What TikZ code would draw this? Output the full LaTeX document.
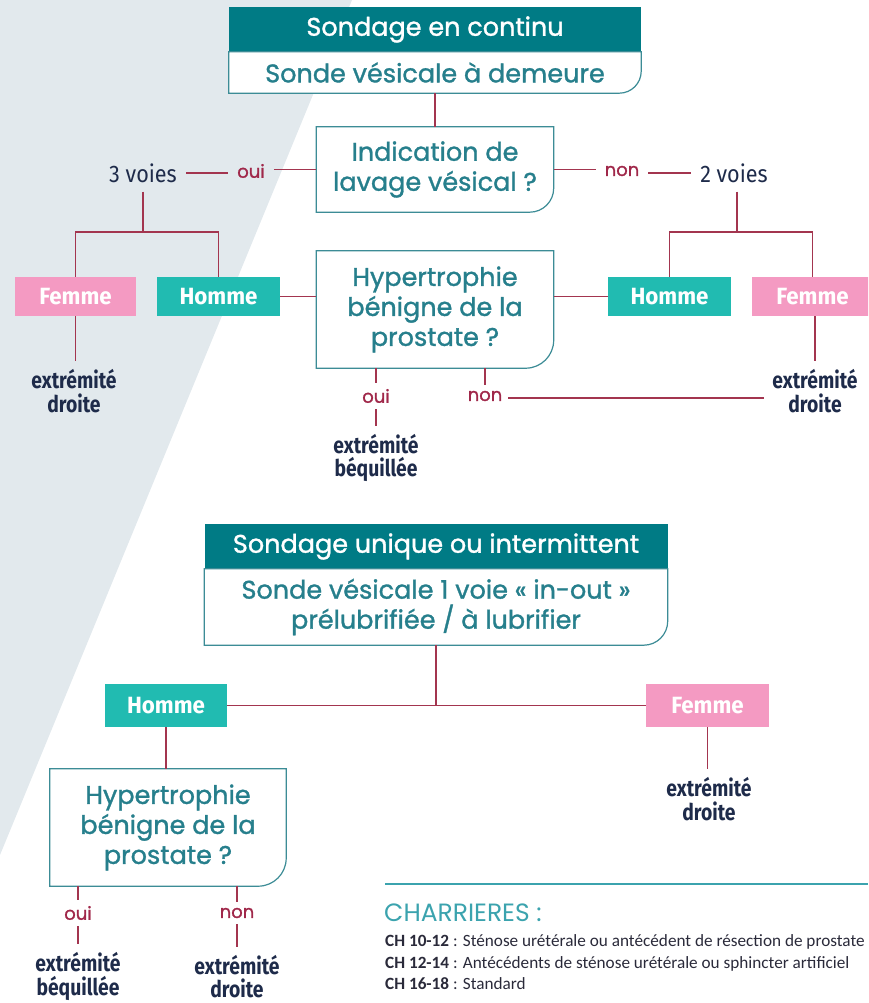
\documentclass[tikz,border=0pt]{standalone}
\usepackage{fontspec}
\setmainfont{Poppins}
\newfontfamily\popm[FakeBold=1.2]{Poppins}
\newfontfamily\condf[FakeStretch=0.84]{Fira Sans}
\newfontfamily\condn[FakeStretch=0.95]{Fira Sans}
\newfontfamily\condv[FakeStretch=0.9]{Fira Sans}
\newfontfamily\calib{Carlito}
\usetikzlibrary{calc}
\definecolor{bggray}{HTML}{E2E9ED}
\definecolor{hdrteal}{HTML}{007B85}
\definecolor{txteal}{HTML}{267F8C}
\definecolor{brdteal}{HTML}{3C8C96}
\definecolor{maroon1}{HTML}{A3354F}
\definecolor{red1}{HTML}{A0284A}
\definecolor{navy1}{HTML}{1E2B4A}
\definecolor{pink1}{HTML}{F49AC2}
\definecolor{green1}{HTML}{21BBB1}
\definecolor{septeal}{HTML}{3BA3AE}
\definecolor{foot}{HTML}{2A2A3A}
\newcommand\myrbox[2]{\draw[boxline] (#1.north west) -- (#1.north east) -- ($(#1.south east)+(0pt,#2)$) arc[start angle=0,end angle=-90,radius=#2] -- (#1.south west) -- cycle;}
\begin{document}
\begin{tikzpicture}[x=1pt,y=-1pt,
  hdr/.style={fill=hdrteal, text=white, inner sep=0pt, font=\popm\fontsize{25.5}{26}\selectfont},
  sub/.style={fill=white, text=txteal, inner sep=0pt, align=center, font=\popm\fontsize{25.5}{30}\selectfont},
  qbox/.style={fill=white, text=txteal, inner sep=0pt, align=center, font=\popm\fontsize{25.5}{30}\selectfont},
  boxline/.style={draw=brdteal, line width=1.2pt},
  link/.style={draw=maroon1, line width=1.4pt},
  pbox/.style={fill=pink1, text=white, inner sep=0pt, minimum width=121pt, minimum height=39pt, font=\condn\bfseries\fontsize{23.5}{24}\selectfont},
  gbox/.style={fill=green1, text=white, inner sep=0pt, minimum width=123pt, minimum height=39pt, font=\condn\bfseries\fontsize{23.5}{24}\selectfont},
  yn/.style={text=red1, inner sep=9pt, font=\popm\fontsize{18}{20}\selectfont},
  res/.style={text=navy1, align=center, inner sep=8pt, font=\condf\bfseries\fontsize{23}{23.5}\selectfont},
  vlab/.style={text=navy1, inner sep=9pt, font=\condv\fontsize{24}{24}\selectfont},
  ftline/.style={text=foot, anchor=base west, inner sep=0pt, font=\calib\fontsize{17.2}{20}\selectfont}
]
\useasboundingbox (0,0) rectangle (868,1003);
\clip (0,0) rectangle (868,1003);
\fill[bggray] (0,0) -- (352,0) -- (0,855) -- cycle;

% ---- top block
\node[hdr, minimum width=412pt, minimum height=45pt] (h1) at (435,29.5) {Sondage en continu};
\node[sub, minimum width=412pt, minimum height=41pt] (s1) at (435,72.5) {Sonde vésicale à demeure};
\myrbox{s1}{22pt}
\node[qbox, minimum width=237pt, minimum height=85pt] (q1) at (435,169.5) {Indication de\\lavage vésical ?};
\myrbox{q1}{24pt}
\draw[link] (s1.south) -- (q1.north);

\node[vlab] (v3) at (143,173) {3 voies};
\node[yn] (oui1) at (251,171) {oui};
\node[yn] (non1) at (622,171) {non};
\node[vlab] (v2) at (734,173) {2 voies};
\draw[link] (v3.east) -- (v3.east -| oui1.west);
\draw[link] (oui1.east |- q1.west) -- (q1.west);
\draw[link] (q1.east) -- (q1.east -| non1.west);
\draw[link] (non1.east |- v2.west) -- (v2.west);

\node[pbox] (f1) at (75.5,296.5) {Femme};
\node[gbox] (hm1) at (218.5,296.5) {Homme};
\node[gbox] (hm2) at (669.5,296.5) {Homme};
\node[pbox] (f2) at (812.5,296.5) {Femme};
\coordinate (j1) at (143,232);
\coordinate (j2) at (737,232);
\draw[link] (v3.south) -- (j1);
\draw[link] (f1.north) |- (j1) -| (hm1.north);
\draw[link] (v2.south -| j2) -- (j2);
\draw[link] (hm2.north) |- (j2) -| (f2.north);

\node[qbox, minimum width=237pt, minimum height=117pt] (q2) at (435,309.5) {Hypertrophie\\bénigne de la\\prostate ?};
\myrbox{q2}{28pt}
\draw[link] (hm1.east) -- (hm1.east -| q2.west);
\draw[link] (q2.east |- hm2.west) -- (hm2.west);

\node[res] (e1) at (74,391) {extrémité\\droite};
\node[res] (e2) at (815,391) {extrémité\\droite};
\draw[link] (f1.south) -- (f1.south |- e1.north);
\draw[link] (f2.south -| e2.north) -- (e2.north);

\node[yn, inner sep=6pt] (oui2) at (376,396) {oui};
\node[yn, inner sep=6pt] (non2) at (485,396) {non};
\node[res] (eb1) at (376,458) {extrémité\\béquillée};
\draw[link] (q2.south -| oui2.north) -- (oui2.north);
\draw[link] (oui2.south) -- (eb1.north);
\draw[link] (q2.south -| non2.north) -- (non2.north);
\draw[link] (non2.east |- 0,398) -- (e2.west |- 0,398);

% ---- bottom block
\node[hdr, minimum width=463pt, minimum height=45pt] (h2) at (436,546.5) {Sondage unique ou intermittent};
\node[sub, minimum width=463pt, minimum height=76pt] (s2) at (436,607) {Sonde vésicale 1 voie « in-out »\\prélubrifiée / à lubrifier};
\myrbox{s2}{24pt}

\node[gbox, minimum height=43pt, minimum width=122pt] (hm3) at (166,705.5) {Homme};
\node[pbox, minimum height=43pt, minimum width=123pt] (f3) at (707.5,705.5) {Femme};
\coordinate (j3) at (436,705.5);
\draw[link] (s2.south) -- (j3);
\draw[link] (hm3.east) -- (f3.west);

\node[qbox, minimum width=236pt, minimum height=117pt] (q3) at (168,827.5) {Hypertrophie\\bénigne de la\\prostate ?};
\myrbox{q3}{28pt}
\draw[link] (hm3.south) -- (hm3.south |- q3.north);

\node[res] (e3) at (709,799) {extrémité\\droite};
\draw[link] (f3.south) -- (f3.south |- e3.north);

\node[yn, inner sep=6pt] (oui3) at (78,913) {oui};
\node[yn, inner sep=6pt] (non3) at (237,913) {non};
\node[res] (eb3) at (78,976.5) {extrémité\\béquillée};
\node[res] (e4) at (237,976.5) {extrémité\\droite};
\draw[link] (q3.south -| oui3.north) -- (oui3.north);
\draw[link] (oui3.south) -- (eb3.north);
\draw[link] (q3.south -| non3.north) -- (non3.north);
\draw[link] (non3.south) -- (e4.north);

% ---- footer
\draw[septeal, line width=2.6pt] (385,884) -- (868,884);
\node[text=septeal, anchor=base west, inner sep=0pt, font=\fontsize{25}{27}\selectfont] (ch) at (384,921) {CHARRIERES :};
\node[ftline] (l1) at (385,946) {\textbf{CH 10-12} : Sténose urétérale ou antécédent de résection de prostate};
\node[ftline] (l2) at (385,968) {\textbf{CH 12-14} : Antécédents de sténose urétérale ou sphincter artificiel};
\node[ftline] (l3) at (385,989) {\textbf{CH 16-18} : Standard};
\end{tikzpicture}
\end{document}
